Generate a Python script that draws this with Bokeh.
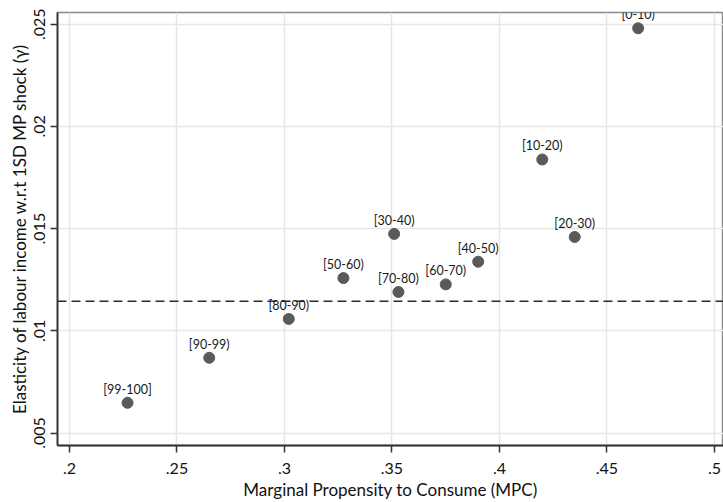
from bokeh.plotting import figure
from bokeh.models import ColumnDataSource, Span, FixedTicker, Range1d, LabelSet
from bokeh.embed import file_html
from bokeh.resources import INLINE
from bokeh.core.properties import value

labels = ["[0-10)", "[10-20)", "[20-30)", "[30-40)", "[40-50)", "[50-60)",
          "[60-70)", "[70-80)", "[80-90)", "[90-99)", "[99-100]"]
mpc = [0.4645, 0.4199, 0.4350, 0.3510, 0.3901, 0.3274, 0.3750, 0.3530, 0.3020, 0.2650, 0.2270]
elasticity = [0.0248, 0.01838, 0.01459, 0.01474, 0.01338, 0.01258, 0.01227, 0.01190, 0.01058, 0.00868, 0.00648]
mean_line = 0.01145
x_ticks = [0.2, 0.25, 0.3, 0.35, 0.4, 0.45, 0.5]
x_tick_labels = [".2", ".25", ".3", ".35", ".4", ".45", ".5"]
y_ticks = [0.005, 0.01, 0.015, 0.02, 0.025]
y_tick_labels = [".005", ".01", ".015", ".02", ".025"]

FONT = "Lato"

src = ColumnDataSource(dict(x=mpc, y=elasticity, lab=labels))

p = figure(width=723, height=502, output_backend="svg", toolbar_location=None,
           x_range=Range1d(0.19442, 0.50419), y_range=Range1d(0.00439, 0.02557),
           min_border_left=57, min_border_right=0, min_border_top=12, min_border_bottom=52)

p.background_fill_color = "white"
p.border_fill_color = "white"
p.outline_line_color = "#8a8a8a"
p.outline_line_width = 1.5

p.xgrid.ticker = FixedTicker(ticks=x_ticks)
p.ygrid.ticker = FixedTicker(ticks=y_ticks)
p.grid.grid_line_color = "#e6e6e6"
p.grid.grid_line_width = 1.5

p.xaxis.ticker = FixedTicker(ticks=x_ticks)
p.yaxis.ticker = FixedTicker(ticks=y_ticks)
p.xaxis.major_label_overrides = dict(zip(x_ticks, x_tick_labels))
p.yaxis.major_label_overrides = dict(zip(y_ticks, y_tick_labels))
p.yaxis.major_label_orientation = "vertical"

for ax in (p.xaxis, p.yaxis):
    ax.axis_line_color = "#333333"
    ax.axis_line_width = 1.8
    ax.major_tick_line_color = "#333333"
    ax.major_tick_line_width = 1.5
    ax.major_tick_out = 7
    ax.major_tick_in = 0
    ax.minor_tick_line_color = None
    ax.major_label_text_font = FONT
    ax.major_label_text_font_size = "16px"
    ax.major_label_text_color = "#111111"
    ax.axis_label_text_font = FONT
    ax.axis_label_text_font_size = "17px"
    ax.axis_label_text_font_style = "normal"
    ax.axis_label_text_color = "#111111"

p.xaxis.axis_label = "Marginal Propensity to Consume (MPC)"
p.yaxis.axis_label = "Elasticity of labour income w.r.t 1SD MP shock (\u03b3)"
p.xaxis.major_label_standoff = 10
p.xaxis.axis_label_standoff = 2
p.yaxis.major_label_standoff = 5
p.yaxis.axis_label_standoff = 2

p.add_layout(Span(location=mean_line, dimension="width", line_color="#2a2a2a",
                  line_width=1.5, line_dash="9 5"))

p.scatter("x", "y", source=src, size=11, fill_color="#5a5a5a", line_color="#5a5a5a")
p.add_layout(LabelSet(x="x", y="y", text="lab", source=src, text_align="center",
                      text_baseline="bottom", y_offset=6, text_font=value(FONT),
                      text_font_size="12.5px", text_color="#1a1a1a", level="overlay"))

open("out.html", "w").write(file_html(p, INLINE))
